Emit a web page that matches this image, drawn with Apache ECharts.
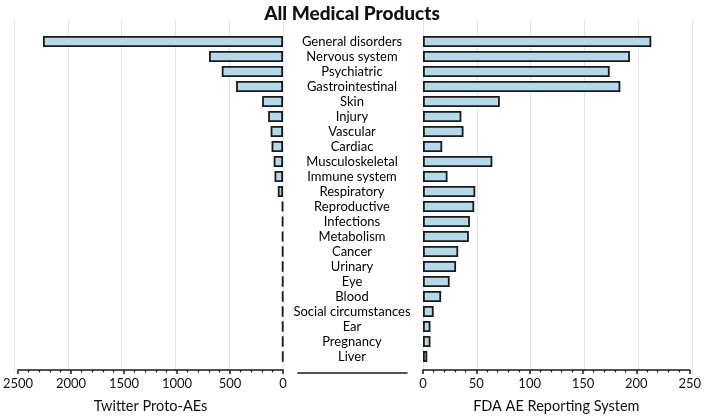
<!DOCTYPE html>
<html><head><meta charset="utf-8">
<script src="https://cdn.jsdelivr.net/npm/echarts@6/dist/echarts.min.js"></script>
<style>html,body{margin:0;padding:0;background:#fff}#c{width:704px;height:419px}</style>
</head><body><div id="c"></div>
<script>
var categories = ['General disorders','Nervous system','Psychiatric','Gastrointestinal','Skin','Injury','Vascular','Cardiac','Musculoskeletal','Immune system','Respiratory','Reproductive','Infections','Metabolism','Cancer','Urinary','Eye','Blood','Social circumstances','Ear','Pregnancy','Liver'];
var twitterValues = [2265, 698, 578, 443, 197, 140, 117, 108, 88, 80, 49, 9, 8, 8, 7, 7, 6, 6, 7, 6, 6, 5];
var fdaValues = [214, 194, 175, 185, 72, 36, 38, 18, 65, 23, 49, 48, 44, 43, 33, 31, 25, 17, 10, 7, 7, 4];
var twitterTicks = [0, 2500, 500];
var fdaTicks = [0, 250, 50];
var titleText = 'All Medical Products';
var leftName = 'Twitter Proto-AEs';
var rightName = 'FDA AE Reporting System';

var FONT = 'Lato';
var dark = '#1a1a1a';
var barFill = '#b5d8ea';
var gridColor = '#e4e4e4';

var chart = echarts.init(document.getElementById('c'));
function valueAxis(gi, ticks, inverse, name) {
  return {
    type: 'value', gridIndex: gi, min: ticks[0], max: ticks[1], interval: ticks[2], inverse: inverse,
    offset: 6,
    name: name, nameLocation: 'middle', nameGap: 29,
    nameTextStyle: {fontFamily: FONT, fontSize: 14.5, color: '#111'},
    axisLine: {show: true, lineStyle: {color: dark, width: 1.5}},
    axisTick: {show: true, length: 4, lineStyle: {color: dark, width: 1.5}},
    minorTick: {show: true, splitNumber: 5, length: 2.5, lineStyle: {color: dark, width: 1.2}},
    axisLabel: {fontFamily: FONT, fontSize: 13, color: '#111', margin: 7, formatter: function (v) { return String(v); }},
    splitLine: {show: false}
  };
}
function splitAxis(gi, ticks, inverse) {
  return {
    type: 'value', gridIndex: gi, min: ticks[0], max: ticks[1], interval: ticks[2], inverse: inverse,
    axisLine: {show: false}, axisTick: {show: false}, axisLabel: {show: false},
    splitLine: {show: true, lineStyle: {color: gridColor, width: 1}}
  };
}
chart.setOption({
  animation: false,
  title: {text: titleText, left: 'center', top: -1,
    textStyle: {fontFamily: FONT, fontSize: 19, fontWeight: 900, color: '#111'}},
  grid: [
    {left: 14, right: 421, top: 34, bottom: 52},
    {left: 423, right: 12, top: 34, bottom: 52},
    {left: 14, right: 421, top: 19, bottom: 46},
    {left: 423, right: 12, top: 19, bottom: 46},
    {left: 298, right: 297, top: 19, bottom: 46}
  ],
  xAxis: [
    valueAxis(0, twitterTicks, true, leftName),
    valueAxis(1, fdaTicks, false, rightName),
    splitAxis(2, twitterTicks, true),
    splitAxis(3, fdaTicks, false),
    {type: 'value', gridIndex: 4, min: 0, max: 1, axisLine: {show: true, lineStyle: {color: dark, width: 1.5}},
      axisTick: {show: false}, axisLabel: {show: false}, splitLine: {show: false}}
  ],
  yAxis: [
    {type: 'category', gridIndex: 0, data: categories, inverse: true, position: 'right',
      axisLine: {show: false}, axisTick: {show: false},
      axisLabel: {interval: 0, fontFamily: FONT, fontSize: 13, color: '#000', align: 'center', margin: 69}},
    {type: 'category', gridIndex: 1, data: categories, inverse: true, show: false},
    {type: 'value', gridIndex: 2, show: false},
    {type: 'value', gridIndex: 3, show: false},
    {type: 'value', gridIndex: 4, show: false}
  ],
  series: [
    {type: 'bar', xAxisIndex: 0, yAxisIndex: 0, data: twitterValues, barWidth: 11,
      itemStyle: {color: barFill, borderColor: dark, borderWidth: 1.8}},
    {type: 'bar', xAxisIndex: 1, yAxisIndex: 1, data: fdaValues, barWidth: 11,
      itemStyle: {color: barFill, borderColor: dark, borderWidth: 1.8}}
  ]
});
</script></body></html>
